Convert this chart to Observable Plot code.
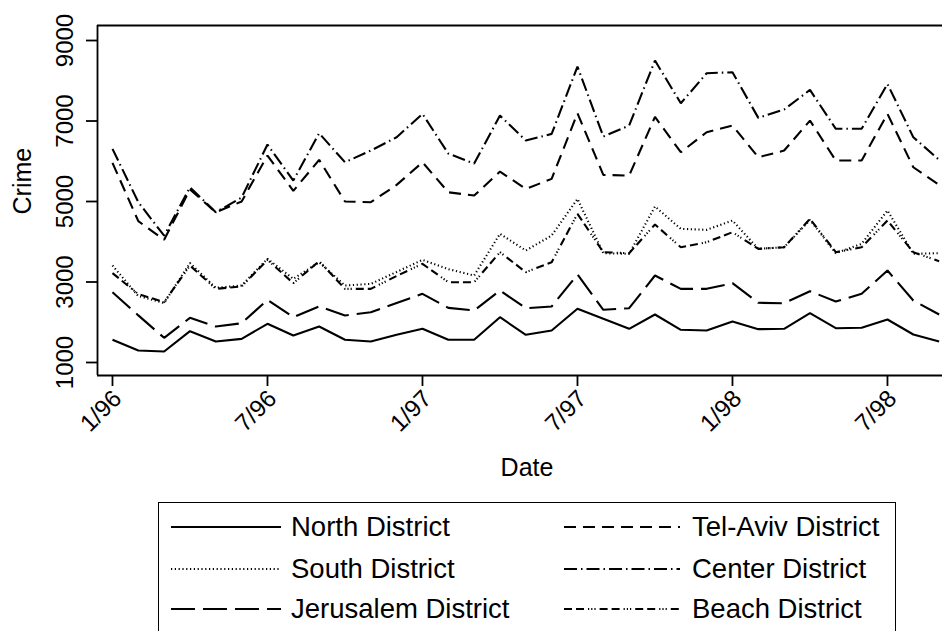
<!DOCTYPE html>
<html><head><meta charset="utf-8">
<script src="https://cdn.jsdelivr.net/npm/d3@7"></script>
<script src="https://cdn.jsdelivr.net/npm/@observablehq/plot@0.6"></script>
<style>
html,body{margin:0;padding:0;background:#fff;overflow:hidden;width:942px;height:631px;}
body{font-family:"Liberation Sans",Arial,Helvetica,sans-serif;position:relative;}
#legend{position:absolute;left:158px;top:502px;width:738px;height:160px;border:1.6px solid #000;box-sizing:border-box;}
.item{position:absolute;height:30px;display:flex;align-items:center;font-size:27.5px;color:#000;white-space:nowrap;}
</style></head><body>
<div id="chart"></div>
<div id="legend"></div>
<script>
// Months (categories)
const months = ["1/96","2/96","3/96","4/96","5/96","6/96","7/96","8/96","9/96","10/96","11/96","12/96",
  "1/97","2/97","3/97","4/97","5/97","6/97","7/97","8/97","9/97","10/97","11/97","12/97",
  "1/98","2/98","3/98","4/98","5/98","6/98","7/98","8/98","9/98"];
const xTicks = ["1/96","7/96","1/97","7/97","1/98","7/98"];
const yTicks = [1000, 3000, 5000, 7000, 9000];

// Series values (crimes per month)
const north = [1564,1298,1273,1778,1522,1588,1961,1671,1894,1564,1522,1690,1837,1564,1564,2125,1688,1795,2334,2085,1837,2192,1812,1795,2018,1828,1837,2225,1852,1862,2068,1696,1522];
const south = [3410,2650,2480,3470,2855,2913,3576,3079,3492,2913,2954,3250,3550,3320,3161,4197,3782,4155,5064,3716,3700,4875,4321,4296,4527,3824,3864,4544,3716,3948,4776,3700,3716];
const jerusalem = [2747,2170,1613,2110,1894,1976,2557,2125,2391,2167,2250,2480,2706,2358,2292,2788,2349,2391,3186,2309,2349,3161,2830,2830,2970,2483,2473,2771,2515,2706,3285,2540,2192];
const telAviv = [5960,4511,4050,5300,4733,5000,6142,5265,6034,4999,4983,5413,5975,5230,5148,5744,5313,5562,7193,5661,5645,7102,6224,6721,6887,6100,6266,7011,6018,6018,7177,5851,5413];
const center = [6308,4983,4150,5355,4733,5100,6415,5521,6695,5975,6266,6597,7177,6191,5942,7135,6514,6680,8353,6614,6887,8502,7441,8187,8211,7078,7285,7773,6806,6806,7920,6597,6035];
const beach = [3220,2700,2500,3410,2830,2888,3550,2970,3517,2830,2830,3150,3452,2995,2995,3741,3244,3492,4694,3741,3716,4428,3864,3988,4236,3824,3864,4569,3741,3864,4527,3741,3517];

const names = ["North District","South District","Jerusalem District","Tel-Aviv District","Center District","Beach District"];
const dashes = [null, "1.2,2.6", "24,8", "12,7", "13,4,1.5,4", "8,4,8,4,1.2,2,1.2,2,1.2,4"];
const values = [north, south, jerusalem, telAviv, center, beach];

const xDomain = [-0.58, 32.13];
const yDomain = [677, 9373];
const font = "Liberation Sans, Arial, Helvetica, sans-serif";

const lineMarks = values.map((vals, k) => Plot.line(vals, {
  x: (d, i) => i, y: d => d,
  stroke: "#000", strokeWidth: 2.1,
  strokeDasharray: dashes[k] || undefined,
  strokeLinejoin: "miter", strokeLinecap: "butt"
}));

const chart = Plot.plot({
  width: 942, height: 490,
  marginLeft: 97, marginRight: 0, marginTop: 25, marginBottom: 115,
  style: {fontFamily: font, background: "#fff", color: "#000"},
  x: {type: "linear", domain: xDomain, axis: null},
  y: {type: "linear", domain: yDomain, axis: null},
  marks: [
    Plot.axisX(xTicks.map(t => months.indexOf(t)), {tickSize: 11, tickFormat: () => "", strokeWidth: 1.8, stroke: "#000"}),
    Plot.axisY(yTicks, {tickSize: 11, tickFormat: () => "", strokeWidth: 1.8, stroke: "#000"}),
    Plot.ruleX([xDomain[0]], {stroke: "#000", strokeWidth: 1.8}),
    Plot.ruleY(yDomain, {stroke: "#000", strokeWidth: 1.8}),
    ...lineMarks,
    Plot.text(yTicks, {y: d => d, text: d => String(d), frameAnchor: "left", dx: -25, rotate: -90,
      textAnchor: "middle", lineAnchor: "bottom", fontSize: 24, fill: "#000"}),
    Plot.text(xTicks, {x: d => months.indexOf(d), text: d => d, frameAnchor: "bottom", dx: 5, dy: 19, rotate: -45,
      textAnchor: "end", lineAnchor: "middle", fontSize: 24, fill: "#000"}),
    Plot.text(["Crime"], {text: d => d, frameAnchor: "left", dx: -75, dy: 14, rotate: -90, fontSize: 25, fill: "#000"}),
    Plot.text(["Date"], {text: d => d, frameAnchor: "bottom", dx: 7, dy: 100, fontSize: 25, fill: "#000"})
  ]
});
document.getElementById("chart").appendChild(chart);

// Legend
const legend = document.getElementById("legend");
// [left, top, sample length, gap]
const pos = [[12, 9, 110, 10], [12, 51, 110, 10], [12, 91, 110, 10],
             [405, 9, 116, 12], [405, 51, 116, 12], [405, 91, 116, 12]];
names.forEach((name, k) => {
  const item = document.createElement("div");
  item.className = "item";
  item.style.left = pos[k][0] + "px";
  item.style.top = pos[k][1] + "px";
  const ns = "http://www.w3.org/2000/svg";
  const svg = document.createElementNS(ns, "svg");
  svg.setAttribute("width", pos[k][2]); svg.setAttribute("height", 10);
  svg.style.marginRight = pos[k][3] + "px";
  const ln = document.createElementNS(ns, "line");
  ln.setAttribute("x1", 0); ln.setAttribute("x2", pos[k][2]);
  ln.setAttribute("y1", 5); ln.setAttribute("y2", 5);
  ln.setAttribute("stroke", "#000"); ln.setAttribute("stroke-width", 2.1);
  if (dashes[k]) ln.setAttribute("stroke-dasharray", dashes[k]);
  svg.appendChild(ln);
  item.appendChild(svg);
  const span = document.createElement("span");
  span.textContent = name;
  item.appendChild(span);
  legend.appendChild(item);
});
</script>
</body></html>
